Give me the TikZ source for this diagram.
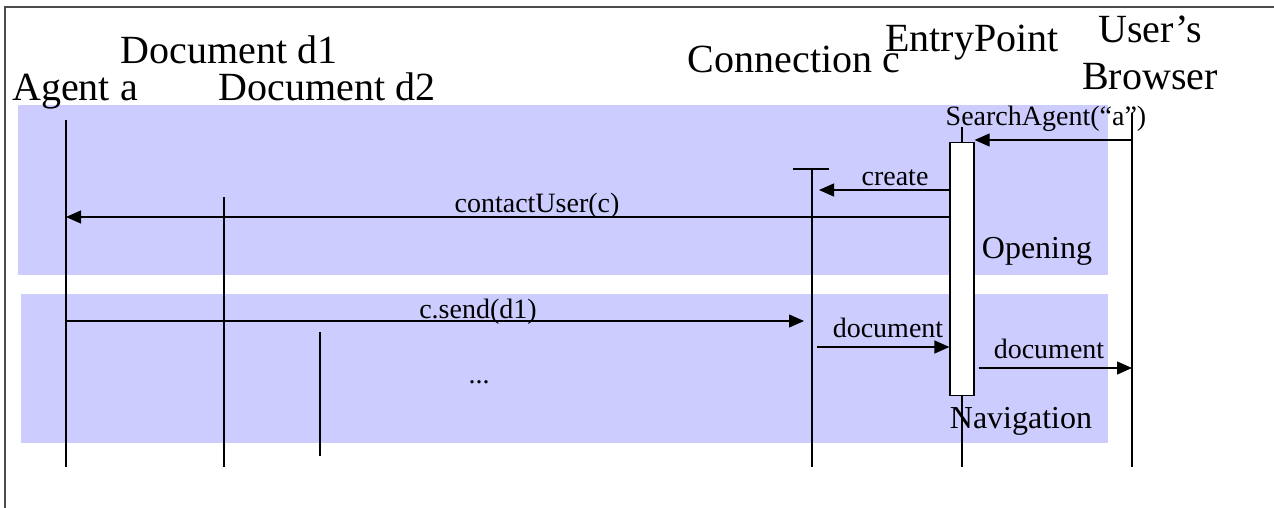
\documentclass[tikz,border=0pt]{standalone}
\usepackage{fontspec}
\setmainfont{Liberation Serif}
\usepackage{tikz}
\usetikzlibrary{arrows.meta}
\definecolor{phasebg}{HTML}{CCCCFF}

\tikzset{
  head/.style={font=\fontsize{40}{47}\selectfont, anchor=base, inner sep=0pt},
  lbl/.style={font=\fontsize{28}{32}\selectfont, anchor=base, inner sep=0pt},
  phase/.style={font=\fontsize{32}{36}\selectfont, anchor=base, inner sep=0pt},
  lifeline/.style={line width=1.2pt},
  msg/.style={line width=1.2pt, -{Triangle[length=15pt,width=13pt]}},
}

\begin{document}
\begin{tikzpicture}[x=1pt, y=-1pt]
  \useasboundingbox (0,0) rectangle (1274,508);

  % Frame (left and top)
  \draw[line width=1.5pt, black!70] (5,508) -- (5,7) -- (1274,7);

  % Phase bands
  \fill[phasebg] (18,105) rectangle (1108,275);
  \fill[phasebg] (21,294) rectangle (1108,443);

  % Object heads
  \node[head] (agent) at (75,101) {Agent a};
  \node[head] (docA) at (229,64) {Document d1};
  \node[head] (docB) at (327,101) {Document d2};
  \node[head] (conn) at (794,73) {Connection c};
  \node[head] (entry) at (972,52) {EntryPoint};
  \node[head, align=center] (user) at (1150,90) {User’s\\Browser};

  % Lifelines
  \foreach \n/\x/\t/\b in {agent/66/120/467, docA/224/197/467, docB/320/332/456,
                           conn/812/169/467, entry/962/127/467, user/1132/113/467} {
    \coordinate (\n Top) at (\x,\t);
    \coordinate (\n End) at (\x,\b);
    \draw[lifeline] (\n Top) -- (\n End);
  }
  \draw[lifeline] ([xshift=-19pt]connTop) -- ([xshift=17pt]connTop);

  % Activation of EntryPoint
  \node[draw, fill=white, line width=1.2pt, minimum width=24pt, minimum height=253pt,
        inner sep=0pt, anchor=north] (act) at (962,142) {};

  % Message rows
  \coordinate (m1) at (0,140);
  \coordinate (m2) at (0,190);
  \coordinate (m3) at (0,217);
  \coordinate (m4) at (0,321);
  \coordinate (m5) at (0,347);
  \coordinate (m6) at (0,368);

  % Messages
  \draw[msg] (userTop |- m1) -- (act.east |- m1);
  \draw[msg, shorten >=7pt] (act.west |- m2) -- (connTop |- m2);
  \draw[msg] (act.west |- m3) -- (agentTop |- m3);
  \draw[msg, shorten >=8pt] (agentTop |- m4) -- (connTop |- m4);
  \draw[msg, shorten <=5pt] (connTop |- m5) -- (act.west |- m5);
  \draw[msg, shorten <=4pt] (act.east |- m6) -- (userTop |- m6);

  % Message labels
  \node[lbl] (lSearch) at (1046,125) {SearchAgent(“a”)};
  \node[lbl] (lCreate) at (895,185) {create};
  \node[lbl] (lContact) at (537,212) {contactUser(c)};
  \node[lbl] (lSend) at (478,318) {c.send(d1)};
  \node[lbl] (lDocA) at (888,337) {document};
  \node[lbl] (lDocB) at (1049,358) {document};
  \node[lbl] (lDots) at (479,383) {...};

  % Phase names
  \node[phase] (open) at (1037,258) {Opening};
  \node[phase] (nav) at (1021,428) {Navigation};
\end{tikzpicture}
\end{document}
